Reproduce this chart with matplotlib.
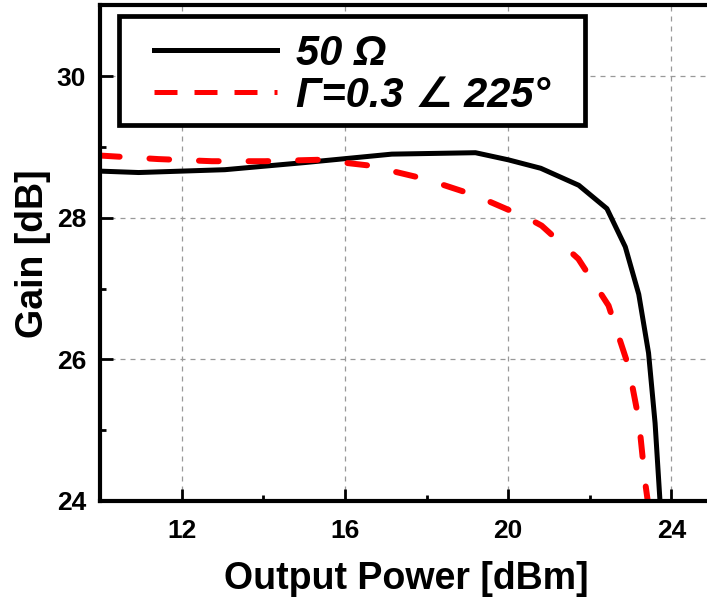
import numpy as np
import matplotlib.pyplot as plt
from matplotlib.ticker import MultipleLocator
from matplotlib.patches import Rectangle

plt.rcParams['font.family'] = ['Liberation Sans', 'DejaVu Sans']
plt.rcParams['font.weight'] = 'bold'

# 50 ohm load
pout_50 = [10.0, 10.95, 13.06, 15.0, 17.15, 19.2, 20.0, 20.8, 21.73, 22.42, 22.87, 23.2, 23.44, 23.6, 23.72]
gain_50 = [28.66, 28.64, 28.68, 28.78, 28.90, 28.92, 28.82, 28.70, 28.46, 28.13, 27.59, 26.92, 26.09, 25.10, 24.0]

# Gamma = 0.3 /_ 225 deg load
pout_g = [10.0, 11.43, 12.74, 14.04, 15.35, 16.58, 17.96, 19.18, 20.5, 20.82, 21.72, 22.46, 22.95, 23.2, 23.36, 23.42]
gain_g = [28.88, 28.83, 28.80, 28.80, 28.82, 28.74, 28.55, 28.32, 27.99, 27.89, 27.42, 26.76, 25.90, 25.15, 24.25, 24.0]

labels = ['50 Ω', 'Γ=0.3 ∠ 225°']

fig = plt.figure(figsize=(7.07, 6.01), dpi=100)
ax = fig.add_axes([0.1414, 0.1664, 0.866, 0.8245])

ax.plot(pout_50, gain_50, color='black', lw=3.6, label=labels[0])
ax.plot(pout_g, gain_g, color='red', lw=4.3, dashes=(3.3, 5.0),
        dash_capstyle='round', label=labels[1])

ax.set_xlim(10, 25)
ax.set_ylim(24, 31)
ax.set_xticks([12, 16, 20, 24])
ax.xaxis.set_minor_locator(MultipleLocator(2))
ax.yaxis.set_major_locator(MultipleLocator(2))
ax.yaxis.set_minor_locator(MultipleLocator(1))
ax.grid(True, which='major', color='#999999', ls=(0, (4, 4)), lw=0.9)

ax.tick_params(which='major', direction='in', length=9, width=2, labelsize=19)
ax.tick_params(which='minor', direction='in', length=4, width=2)
ax.tick_params(axis='x', pad=13)
ax.tick_params(axis='y', pad=10)
for s in ax.spines.values():
    s.set_linewidth(3)

ax.set_xlabel('Output Power [dBm]', fontsize=27, fontweight='bold', labelpad=13)
ax.set_ylabel('Gain [dB]', fontsize=27, fontweight='bold', labelpad=4)

# legend frame drawn separately so the inner padding matches the original
frame = Rectangle((0.031, 0.759), 0.762, 0.219, transform=ax.transAxes,
                  facecolor='white', edgecolor='black', lw=3.4, zorder=5,
                  clip_on=False)
ax.add_patch(frame)
leg = ax.legend(loc='upper left', bbox_to_anchor=(0.088, 0.943), borderaxespad=0,
                frameon=False, prop={'size': 30, 'weight': 'bold', 'style': 'italic'},
                handlelength=2.95, handletextpad=0.45, labelspacing=0.05,
                borderpad=0)
leg.set_zorder(6)
red_handle = leg.get_lines()[1]
red_handle.set_linewidth(3.6)
red_handle.set_dashes((4.6, 3.4))
red_handle.set_dash_capstyle('butt')

fig.savefig('out.png', dpi=100)
